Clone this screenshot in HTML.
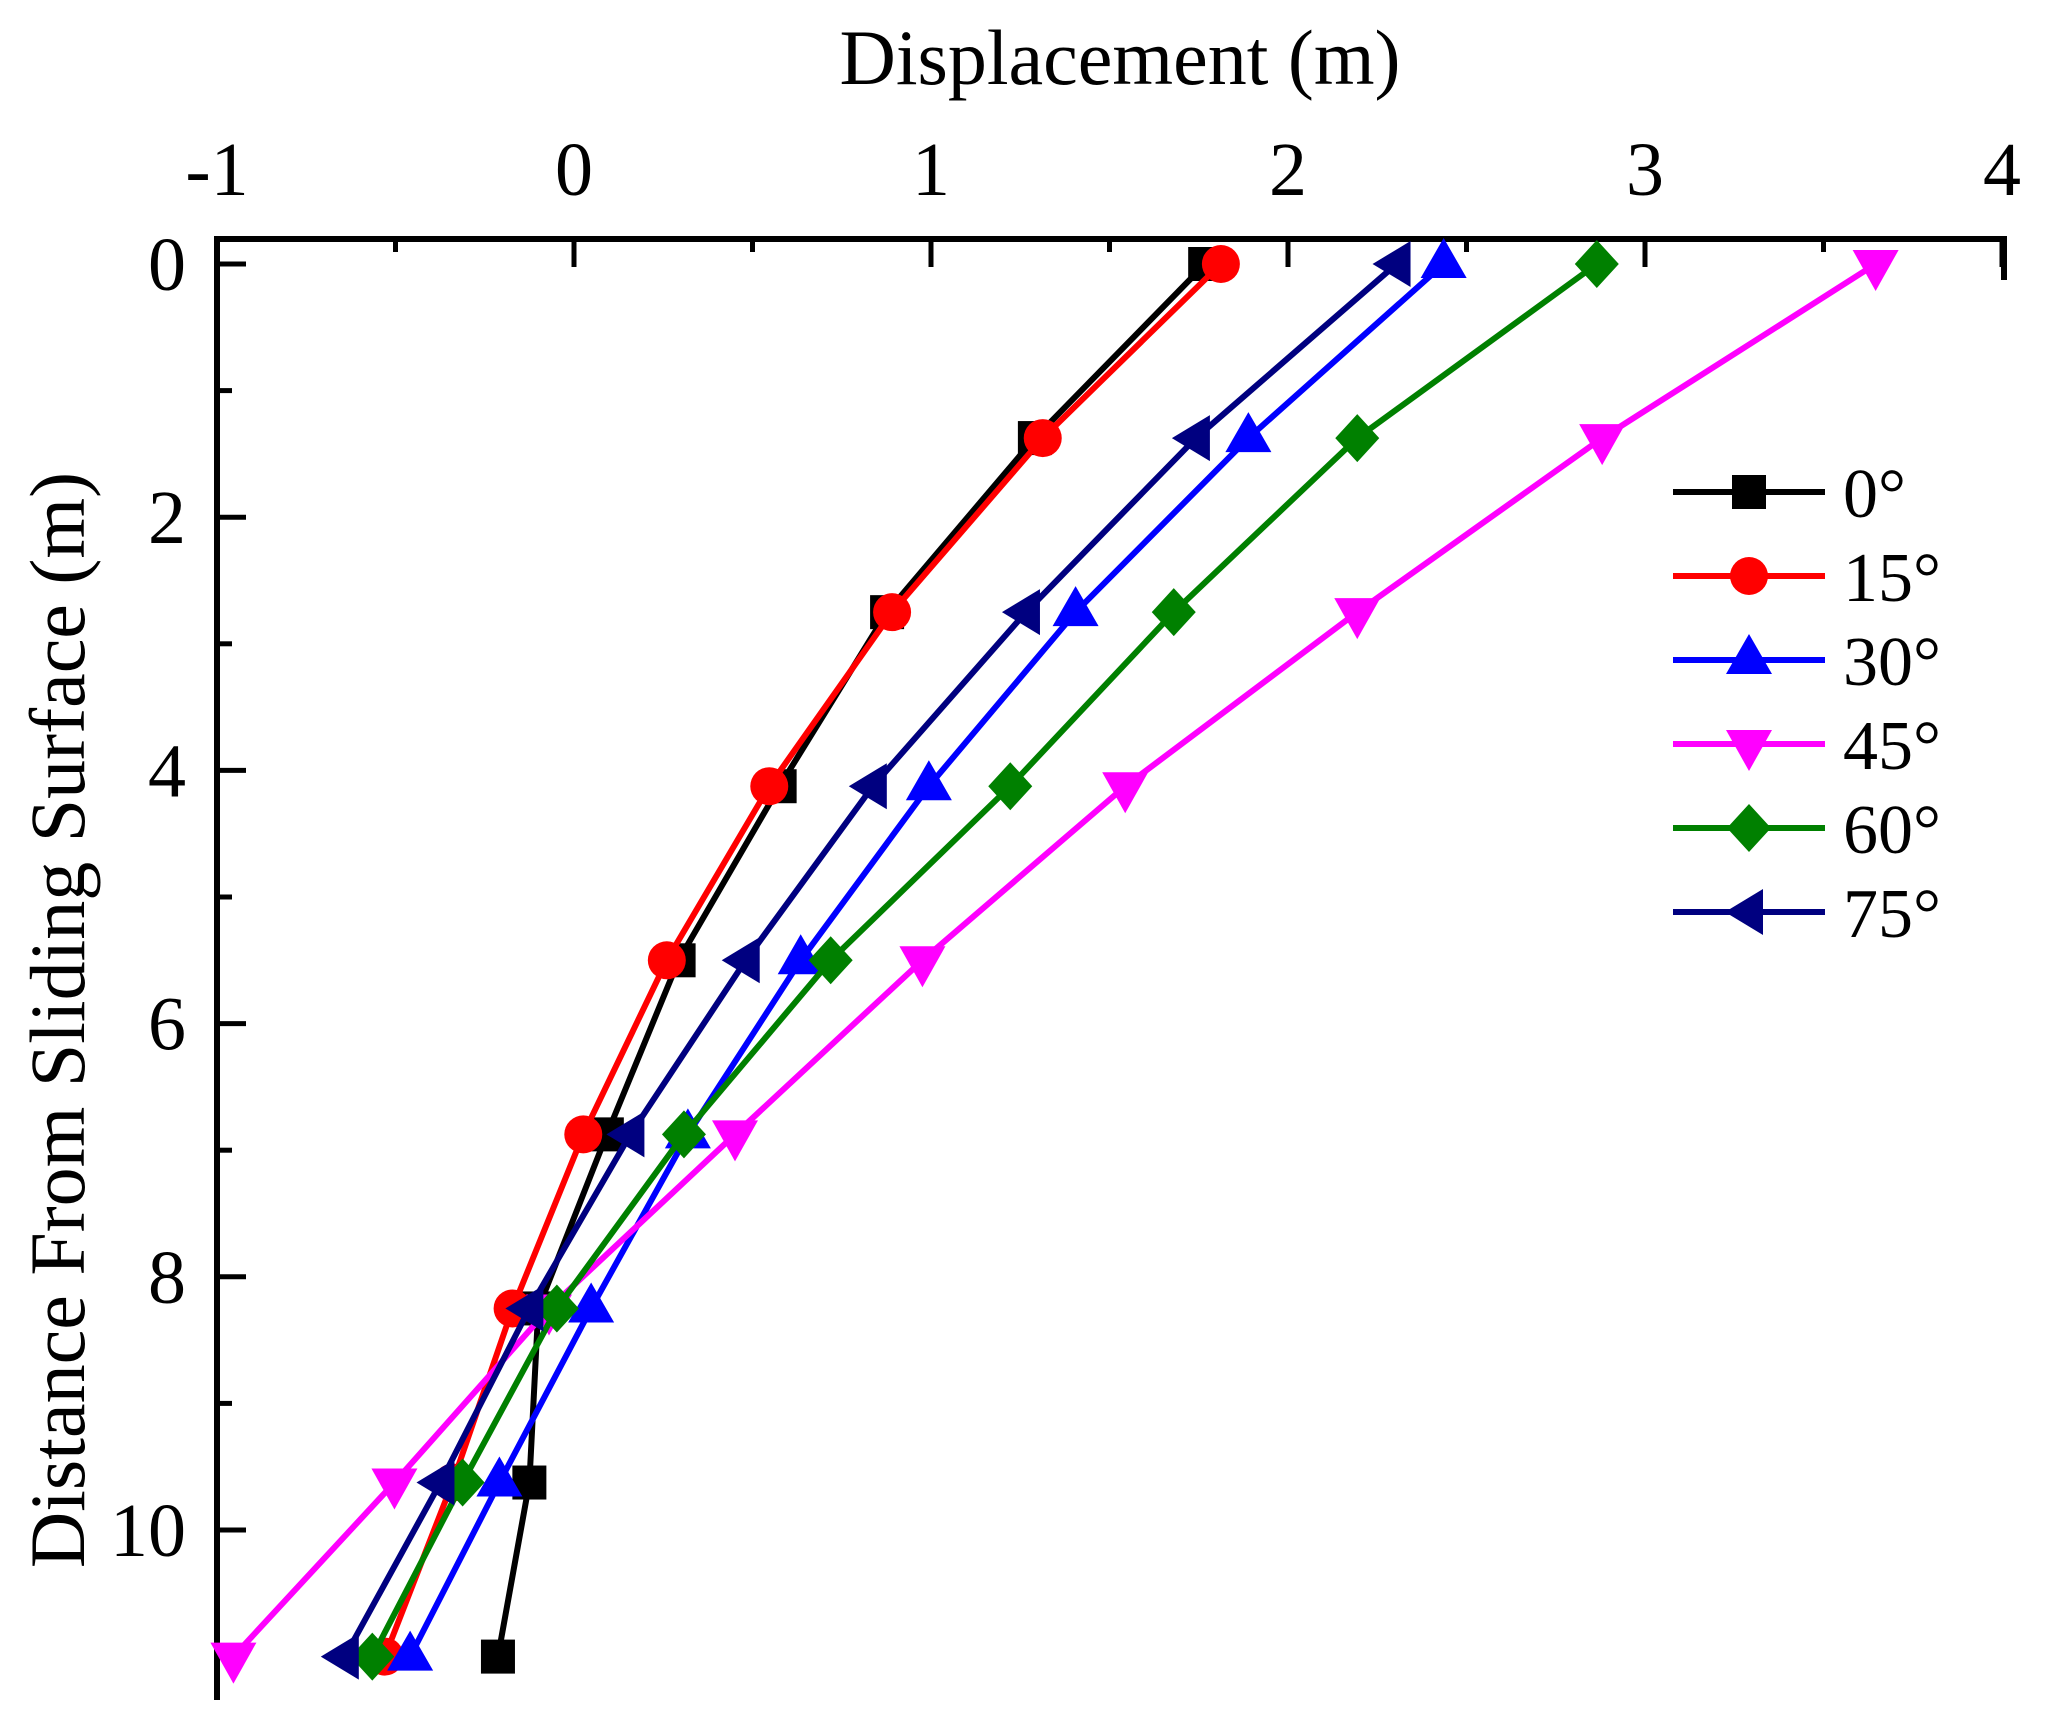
<!DOCTYPE html>
<html><head><meta charset="utf-8"><style>
html,body{margin:0;padding:0;background:#fff;}
svg{display:block;}
text{font-family:"Liberation Serif",serif;fill:#000;}
</style></head><body>
<svg id="s" width="2059" height="1710" viewBox="0 0 2059 1710" xmlns="http://www.w3.org/2000/svg">
<text x="1120" y="84" font-size="78" text-anchor="middle">Displacement (m)</text>
<text transform="translate(84,1020) rotate(-90)" font-size="78" text-anchor="middle">Distance From Sliding Surface (m)</text>
<g id="g"></g>
</svg>
<script>
var NS="http://www.w3.org/2000/svg",g=document.getElementById('g');
function el(t,a,txt){var e=document.createElementNS(NS,t);for(var k in a)e.setAttribute(k,a[k]);if(txt!==undefined)e.textContent=txt;g.appendChild(e);return e;}
function X(v){return 574+357*v;}function Y(v){return 264+126.6*v;}
el('path',{d:'M217 1700 L217 239 L2004 239 L2004 280',fill:'none',stroke:'#000','stroke-width':6});
for(var v=-1;v<=4;v+=0.5){var x=X(v),maj=Math.abs(v-Math.round(v))<1e-6;
 el('line',{x1:x,y1:239,x2:x,y2:maj?267:252,stroke:'#000','stroke-width':5});
 if(maj)el('text',{x:x,y:195,'font-size':76,'text-anchor':'middle'},String(v));}
for(var v=0;v<=11;v+=1){var y=Y(v),maj=v%2==0;
 el('line',{x1:217,y1:y,x2:maj?246:232,y2:y,stroke:'#000','stroke-width':5});
 if(maj)el('text',{x:186,y:y+26,'font-size':76,'text-anchor':'end'},String(v));}
var D=[0,1,2,3,4,5,6,7,8].map(function(i){return i*11/8;});
var S=[
 ['#000','sq',[1.768,1.291,0.877,0.576,0.293,0.092,-0.1,-0.125,-0.213]],
 ['#ff0000','ci',[1.812,1.313,0.891,0.547,0.260,0.026,-0.172,-0.34,-0.53]],
 ['#0000ff','up',[2.436,1.889,1.405,0.994,0.635,0.319,0.048,-0.209,-0.459]],
 ['#ff00ff','dn',[3.646,2.880,2.194,1.544,0.976,0.451,-0.07,-0.503,-0.954]],
 ['#008000','di',[2.865,2.194,1.680,1.222,0.719,0.308,-0.048,-0.312,-0.565]],
 ['#000080','lt',[2.304,1.742,1.266,0.837,0.481,0.158,-0.125,-0.374,-0.642]]];
function mk(t,x,y,c){
 if(t=='sq')el('rect',{x:x-17,y:y-17,width:34,height:34,fill:c});
 else if(t=='ci')el('circle',{cx:x,cy:y,r:19,fill:c});
 else if(t=='up')el('polygon',{points:(x)+','+(y-26)+' '+(x+23)+','+(y+14)+' '+(x-23)+','+(y+14),fill:c});
 else if(t=='dn')el('polygon',{points:(x)+','+(y+27)+' '+(x+23)+','+(y-14)+' '+(x-23)+','+(y-14),fill:c});
 else if(t=='di')el('polygon',{points:x+','+(y-24)+' '+(x+22)+','+y+' '+x+','+(y+24)+' '+(x-22)+','+y,fill:c});
 else el('polygon',{points:(x-24)+','+y+' '+(x+14)+','+(y-23)+' '+(x+14)+','+(y+23),fill:c});}
S.forEach(function(s){var p=s[2].map(function(v,i){return X(v)+','+Y(D[i]);}).join(' ');
 el('polyline',{points:p,fill:'none',stroke:s[0],'stroke-width':6,'stroke-linejoin':'round'});
 s[2].forEach(function(v,i){mk(s[1],X(v),Y(D[i]),s[0]);});});
var L=['0°','15°','30°','45°','60°','75°'];
S.forEach(function(s,i){var y=492+84*i;
 el('line',{x1:1673,y1:y,x2:1825,y2:y,stroke:s[0],'stroke-width':6});
 mk(s[1],1749,y,s[0]);
 el('text',{x:1843,y:y+25,'font-size':70},L[i]);});
</script>
</body></html>
